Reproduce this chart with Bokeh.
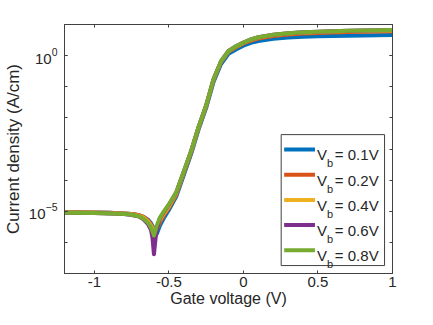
import numpy as np
from bokeh.plotting import figure
from bokeh.models import (FixedTicker, LogAxis, LinearAxis, Label,
                          CustomJSTickFormatter)
from bokeh.embed import file_html
from bokeh.resources import INLINE

# ---------------- data ----------------
gate_v = [-1.2, -1.0, -0.9, -0.8, -0.75, -0.7, -0.67, -0.64, -0.62, -0.61, -0.6,
          -0.59, -0.58, -0.56, -0.53, -0.5, -0.45, -0.4, -0.35, -0.3, -0.25, -0.2,
          -0.15, -0.1, -0.05, 0.0, 0.05, 0.1, 0.2, 0.3, 0.4, 0.5, 0.7, 1.0]

# log10 of current density (A/cm)
log_j_01 = [-5.03, -5.04, -5.05, -5.07, -5.09, -5.13, -5.18, -5.27, -5.38, -5.47, -5.56,
            -5.64, -5.72, -5.46, -5.19, -4.96, -4.52, -3.84, -3.15, -2.36, -1.68, -0.84,
            -0.27, 0.06, 0.20, 0.32, 0.41, 0.47, 0.54, 0.58, 0.61, 0.62, 0.64, 0.66]
log_j_02 = [-5.03, -5.04, -5.05, -5.07, -5.09, -5.12, -5.18, -5.29, -5.42, -5.53, -5.64,
            -5.70, -5.58, -5.35, -5.10, -4.89, -4.46, -3.78, -3.10, -2.31, -1.63, -0.78,
            -0.21, 0.12, 0.27, 0.39, 0.48, 0.55, 0.63, 0.68, 0.71, 0.73, 0.76, 0.78]
log_j_04 = [-5.04, -5.05, -5.06, -5.08, -5.10, -5.14, -5.21, -5.33, -5.46, -5.58, -5.72,
            -5.66, -5.50, -5.28, -5.05, -4.84, -4.42, -3.75, -3.07, -2.29, -1.61, -0.76,
            -0.19, 0.14, 0.29, 0.41, 0.51, 0.58, 0.66, 0.71, 0.74, 0.76, 0.79, 0.81]
log_j_06 = [-5.05, -5.06, -5.07, -5.09, -5.12, -5.17, -5.26, -5.41, -5.60, -5.85, -6.38,
            -5.90, -5.55, -5.22, -5.00, -4.79, -4.39, -3.73, -3.05, -2.28, -1.60, -0.75,
            -0.18, 0.15, 0.30, 0.42, 0.52, 0.59, 0.67, 0.72, 0.75, 0.77, 0.80, 0.82]
log_j_08 = [-5.05, -5.06, -5.07, -5.09, -5.11, -5.16, -5.24, -5.37, -5.52, -5.64, -5.78,
            -5.62, -5.45, -5.20, -4.98, -4.78, -4.38, -3.72, -3.05, -2.28, -1.60, -0.75,
            -0.18, 0.15, 0.30, 0.42, 0.52, 0.59, 0.67, 0.72, 0.75, 0.77, 0.80, 0.82]

series_labels = ["0.1V", "0.2V", "0.4V", "0.6V", "0.8V"]
series_values = [log_j_01, log_j_02, log_j_04, log_j_06, log_j_08]
colors = ["#0072BD", "#D95319", "#EDB120", "#7E2F8E", "#77AC30"]

x_ticks = [-1, -0.5, 0, 0.5, 1]
y_major_ticks = [1e-5, 1e0]
y_minor_ticks = [1e-7, 1e-6, 1e-5, 1e-4, 1e-3, 1e-2, 1e-1, 1e0, 1e1]

FONT = "Liberation Sans"
TXT = "#262626"
AX = "#404040"

# ---------------- figure ----------------
X0, X1 = -1.2, 1.0
Y0, Y1 = 1e-7, 1e1
W, H = 417, 309
BL, BR, BT, BB = 62, 25, 24, 36
p = figure(width=W, height=H, x_range=(X0, X1), y_range=(Y0, Y1),
           y_axis_type="log", output_backend="svg", toolbar_location=None,
           min_border_left=BL, min_border_right=BR, min_border_top=BT,
           min_border_bottom=BB)
p.grid.visible = False
p.outline_line_color = AX
p.background_fill_color = "white"
p.border_fill_color = "white"

def style_axis(ax, labels=True):
    ax.axis_line_color = AX
    ax.major_tick_line_color = AX
    ax.minor_tick_line_color = AX
    ax.major_tick_in = 3
    ax.major_tick_out = 0
    ax.minor_tick_in = 3
    ax.minor_tick_out = 0
    ax.major_label_text_font = FONT
    ax.major_label_text_color = TXT
    ax.axis_label_text_font = FONT
    ax.axis_label_text_color = TXT
    ax.axis_label_text_font_style = "normal"
    ax.axis_label_text_font_size = "16px"
    ax.major_label_text_font_size = "15px"
    if not labels:
        ax.major_label_text_font_size = "1px"
        ax.major_label_text_alpha = 0
        ax.major_label_standoff = 0
        ax.formatter = CustomJSTickFormatter(code="return '';")

xa = p.xaxis[0]
xa.ticker = FixedTicker(ticks=x_ticks, minor_ticks=[])
xa.formatter = CustomJSTickFormatter(code="return tick.toString();")
style_axis(xa)
xa.major_label_standoff = 3
xa.axis_label = "Gate voltage (V)"
xa.axis_label_standoff = 0

ya = p.yaxis[0]
ya.ticker = FixedTicker(ticks=y_major_ticks, minor_ticks=y_minor_ticks)
style_axis(ya)
ya.axis_label_text_font_size = "17px"
ya.major_label_standoff = 7
ya.axis_label = "Current density (A/cm)"
ya.axis_label_standoff = 3

top = LinearAxis(ticker=FixedTicker(ticks=x_ticks, minor_ticks=[]))
style_axis(top, labels=False)
p.add_layout(top, "above")
right = LogAxis(ticker=FixedTicker(ticks=y_major_ticks, minor_ticks=y_minor_ticks))
style_axis(right, labels=False)
p.add_layout(right, "right")

for vals, c in zip(series_values, colors):
    j = 10.0 ** np.array(vals)
    p.line(gate_v, j, line_color=c, line_width=4, line_join="round", line_cap="round")

# ---------------- legend (drawn by hand for the subscript) ----------------
# reference frame in pixels: x 62..392, y 24..275
def vx(px):
    return X0 + (px - 62) / (392 - 62) * (X1 - X0)

def ly(py):
    l0, l1 = np.log10(Y1), np.log10(Y0)
    return 10 ** (l0 + (py - 24) / (275 - 24) * (l1 - l0))

p.quad(left=[vx(280)], right=[vx(384)], top=[ly(135)], bottom=[ly(267)],
       fill_color="white", line_color=AX, line_width=1)

row0, drow = 150.0, 25.4
for i, (lab, c) in enumerate(zip(series_labels, colors)):
    ry = row0 + i * drow
    p.segment(x0=[vx(283)], y0=[ly(ry)], x1=[vx(314)], y1=[ly(ry)],
              line_color=c, line_width=4)
    p.add_layout(Label(x=vx(316), y=ly(ry + 5.5), text="V", text_font=FONT,
                       text_font_size="15px", text_color=TXT,
                       text_baseline="alphabetic", text_align="left"))
    p.add_layout(Label(x=vx(326), y=ly(ry + 14), text="b", text_font=FONT,
                       text_font_size="11px", text_color=TXT,
                       text_baseline="alphabetic", text_align="left"))
    p.add_layout(Label(x=vx(334), y=ly(ry + 5.5), text="= " + lab, text_font=FONT,
                       text_font_size="15px", text_color=TXT,
                       text_baseline="alphabetic", text_align="left"))

open("out.html", "w").write(file_html(p, INLINE))
